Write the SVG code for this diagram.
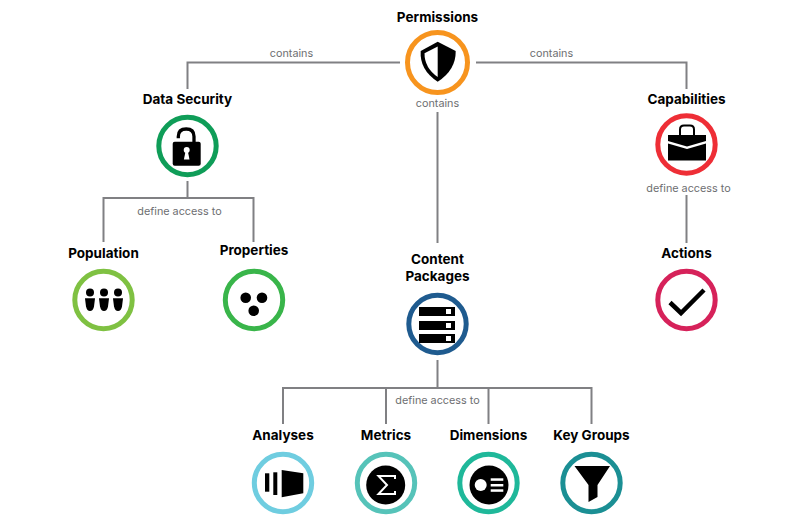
<svg xmlns="http://www.w3.org/2000/svg" width="800" height="531" viewBox="0 0 800 531">
<style>
text{font-family:"Inter","Liberation Sans",sans-serif;text-anchor:middle}
.t{font-size:13.5px;font-weight:700;fill:#000}
.l{font-size:10.8px;font-weight:400;fill:#6d6e71}
.c{fill:#fff;stroke-width:5}
.w{fill:none;stroke:#fff}
#connectors path{fill:none;stroke:#808083;stroke-width:2}
</style>
<rect width="800" height="531" fill="#fff"/>
<g id="connectors">
<path d="M400 62.500H187.500V89"/>
<path d="M476 62.500H686.500V89"/>
<path d="M437.500 112V243"/>
<path d="M187.500 181V198M103.500 242V198H253.500V242"/>
<path d="M686.500 195V243"/>
<path d="M437.500 360V388M283 424V388H591.500V424M386 388V424M488.500 388V424"/>
</g>
<g id="link-labels">
<text class="l" x="291.500" y="57">contains</text>
<text class="l" x="551.500" y="57">contains</text>
<text class="l" x="437.500" y="107">contains</text>
<text class="l" x="179.500" y="215">define access to</text>
<text class="l" x="688.500" y="192">define access to</text>
<text class="l" x="437.500" y="404">define access to</text>
</g>
<g id="permissions">
<text class="t" x="437.500" y="22">Permissions</text>
<circle class="c" cx="437.500" cy="62.500" r="30" stroke="#f7941e"/>
<path d="M437.700 41.700L455.700 51Q456 70 437.700 81.700Q419.500 70 420.700 51Z" fill="#000"/>
<path d="M437.700 46.500L424.500 53.300Q424.500 68 437.700 77Z" fill="#fff"/>
</g>
<g id="data-security">
<text class="t" x="187.500" y="104">Data Security</text>
<circle class="c" cx="187.500" cy="146" r="28.700" stroke="#0f9d58"/>
<path d="M178.300 138.300V136.500Q178.300 129 186.200 129Q194 129 194 136.500V143" fill="none" stroke="#000" stroke-width="3.300"/>
<rect x="172.700" y="141.700" width="28" height="24" rx="2" fill="#000"/>
<circle cx="186.700" cy="150" r="3" fill="#fff"/>
<path d="M185.600 151H187.800L189.500 159.500H183.900Z" fill="#fff"/>
</g>
<g id="capabilities">
<text class="t" x="686.500" y="104">Capabilities</text>
<circle class="c" cx="686.500" cy="144.500" r="28.700" stroke="#ee2e36"/>
<path d="M680 135V129.500Q680 125.500 684 125.500H690Q694 125.500 694 129.500V135" fill="none" stroke="#000" stroke-width="2"/>
<path d="M668 135H706V141L687 146.500L668 141Z" fill="#000"/>
<path d="M668 143.500L687 149L706 143.500V160.500H668Z" fill="#000"/>
</g>
<g id="population">
<text class="t" x="103.500" y="258">Population</text>
<circle class="c" cx="103.500" cy="300" r="28.700" stroke="#7fc142"/>
<g fill="#000">
<circle cx="90" cy="292.500" r="4"/><circle cx="104" cy="292.500" r="4"/><circle cx="118" cy="292.500" r="4"/>
<path d="M85 298.300H95L94 306.500Q93 311 90 311Q87 311 86 306.500Z"/>
<path d="M99 298.300H109L108 306.500Q107 311 104 311Q101 311 100 306.500Z"/>
<path d="M113 298.300H123L122 306.500Q121 311 118 311Q115 311 114 306.500Z"/>
</g>
</g>
<g id="properties">
<text class="t" x="254" y="255">Properties</text>
<circle class="c" cx="254" cy="300" r="28.700" stroke="#39b54a"/>
<g fill="#000"><circle cx="245.700" cy="297.700" r="5.300"/><circle cx="262" cy="297.700" r="5.300"/><circle cx="253.700" cy="310.700" r="5.300"/></g>
</g>
<g id="actions">
<text class="t" x="686.500" y="258">Actions</text>
<circle class="c" cx="686.500" cy="300" r="28.700" stroke="#d6225a"/>
<path d="M670 302.500L681 313L704 290" fill="none" stroke="#000" stroke-width="4.500"/>
</g>
<g id="content-packages">
<text class="t" x="437.500" y="264">Content</text>
<text class="t" x="437.500" y="281">Packages</text>
<circle class="c" cx="437.500" cy="324" r="28.700" stroke="#1f5b8f"/>
<g fill="#000"><rect x="419" y="307" width="36" height="9"/><rect x="419" y="321" width="36" height="9"/><rect x="419" y="334" width="36" height="9"/></g>
<g fill="#fff"><rect x="446" y="309" width="5" height="5"/><rect x="446" y="323" width="5" height="5"/><rect x="446" y="336" width="5" height="5"/></g>
</g>
<g id="analyses">
<text class="t" x="283" y="440">Analyses</text>
<circle class="c" cx="283" cy="483" r="28.700" stroke="#6fcde0"/>
<g fill="#000"><rect x="265" y="473.300" width="4.300" height="18.400"/><rect x="273.300" y="472.300" width="4" height="22.700"/><path d="M281.700 470L303.300 473.300V493.300L281.700 497.300Z"/></g>
</g>
<g id="metrics">
<text class="t" x="386" y="440">Metrics</text>
<circle class="c" cx="386" cy="483" r="28.700" stroke="#56c3b9"/>
<circle cx="385.700" cy="485" r="19.500" fill="#000"/>
<path d="M395 479V476H378.500L387 485L378.500 494H395V491" class="w" stroke-width="2"/>
</g>
<g id="dimensions">
<text class="t" x="488.500" y="440">Dimensions</text>
<circle class="c" cx="488.500" cy="483" r="28.700" stroke="#1fb89a"/>
<circle cx="489" cy="485" r="19.500" fill="#000"/>
<circle cx="480.700" cy="485" r="6" fill="#fff"/>
<g fill="#fff"><rect x="490.700" y="478.300" width="12.600" height="2.500"/><rect x="490.700" y="484" width="12.600" height="2.500"/><rect x="490.700" y="489.300" width="12.600" height="2.500"/></g>
</g>
<g id="key-groups">
<text class="t" x="591.500" y="440">Key Groups</text>
<circle class="c" cx="591.500" cy="483" r="28.700" stroke="#1b8f94"/>
<path d="M574.500 466H610L597.500 485V497L588.500 502V485Z" fill="#000"/>
</g>
</svg>
